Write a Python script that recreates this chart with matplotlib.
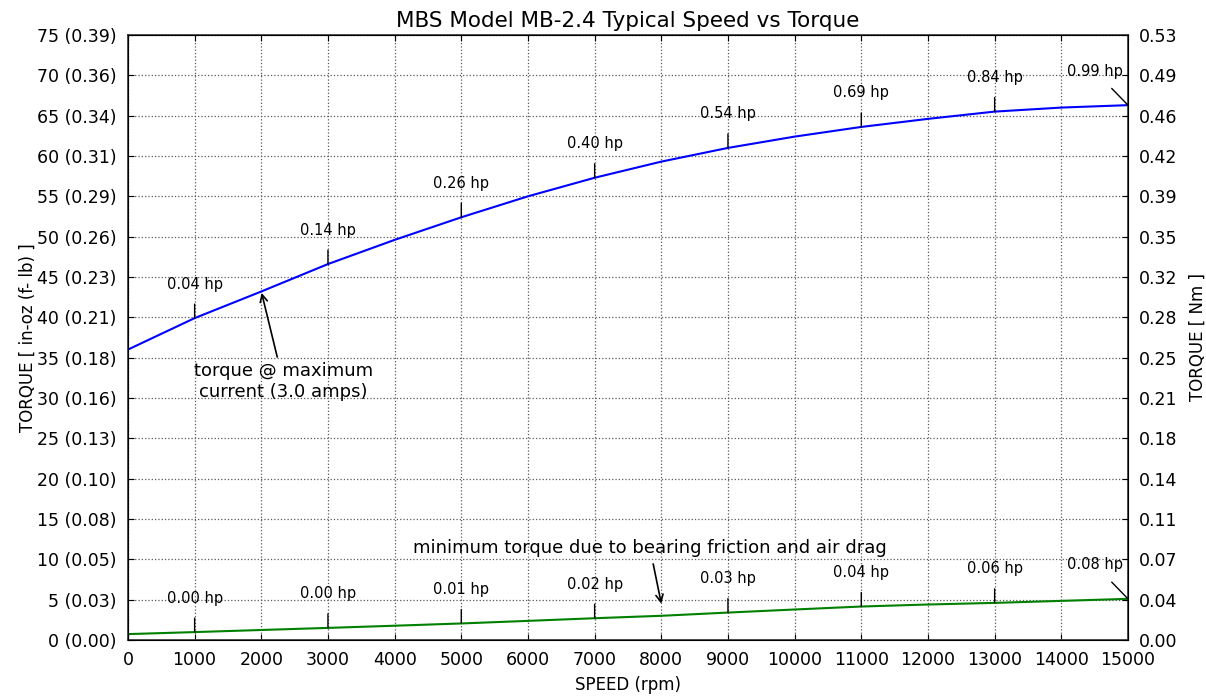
import numpy as np
import matplotlib
matplotlib.use("Agg")
import matplotlib.pyplot as plt

# speed (rpm) and torque (in-oz)
speed = [0, 1000, 2000, 3000, 4000, 5000, 6000, 7000, 8000,
         9000, 10000, 11000, 12000, 13000, 14000, 15000]
torque_max = [36.0, 39.9, 43.2, 46.6, 49.6, 52.4, 55.0, 57.3, 59.3,
              61.0, 62.4, 63.6, 64.6, 65.5, 66.0, 66.3]
torque_min = [0.73, 0.98, 1.24, 1.5, 1.77, 2.05, 2.37, 2.7, 3.0,
              3.4, 3.78, 4.15, 4.4, 4.6, 4.85, 5.1]

hp_speeds = [1000, 3000, 5000, 7000, 9000, 11000, 13000, 15000]
hp_max = ["0.04 hp", "0.14 hp", "0.26 hp", "0.40 hp",
          "0.54 hp", "0.69 hp", "0.84 hp", "0.99 hp"]
hp_min = ["0.00 hp", "0.00 hp", "0.01 hp", "0.02 hp",
          "0.03 hp", "0.04 hp", "0.06 hp", "0.08 hp"]

yticks = [0, 5, 10, 15, 20, 25, 30, 35, 40, 45, 50, 55, 60, 65, 70, 75]
left_labels = ["0 (0.00)", "5 (0.03)", "10 (0.05)", "15 (0.08)", "20 (0.10)",
               "25 (0.13)", "30 (0.16)", "35 (0.18)", "40 (0.21)", "45 (0.23)",
               "50 (0.26)", "55 (0.29)", "60 (0.31)", "65 (0.34)", "70 (0.36)",
               "75 (0.39)"]
right_labels = ["0.00", "0.04", "0.07", "0.11", "0.14", "0.18", "0.21", "0.25",
                "0.28", "0.32", "0.35", "0.39", "0.42", "0.46", "0.49", "0.53"]
xticks = list(range(0, 15001, 1000))

plt.rcParams["font.family"] = "DejaVu Sans"

fig = plt.figure(figsize=(12.06, 6.98), dpi=100)
ax = fig.add_axes([0.1061, 0.0831, 0.8292, 0.8668])

ax.plot(speed, torque_max, color="#0000ff", lw=1.5)
ax.plot(speed, torque_min, color="#008000", lw=1.5)

ax.set_xlim(0, 15000)
ax.set_ylim(0, 75)
ax.set_xticks(xticks)
ax.set_yticks(yticks)
ax.set_yticklabels(left_labels)
ax.tick_params(direction="in", labelsize=12.5, length=4, top=True, pad=8)
ax.grid(True, color="0.35", linestyle=":", linewidth=0.9)
for s in ax.spines.values():
    s.set_linewidth(1.2)
    s.set_color("0.2")

ax2 = ax.twinx()
ax2.set_ylim(0, 75)
ax2.set_yticks(yticks)
ax2.set_yticklabels(right_labels)
ax2.tick_params(direction="in", labelsize=12.5, length=4, pad=8)

ax.set_title("MBS Model MB-2.4 Typical Speed vs Torque", fontsize=15.5, pad=6)
ax.set_xlabel("SPEED (rpm)", fontsize=12, labelpad=5)
ax.set_ylabel("TORQUE [ in-oz (f- lb) ]", fontsize=12, labelpad=0)
ax2.set_ylabel("TORQUE [ Nm ]", fontsize=12, labelpad=8)

# hp labels along both curves
for curve, labels in [(torque_max, hp_max), (torque_min, hp_min)]:
    for sp, lab in zip(hp_speeds, labels):
        yv = np.interp(sp, speed, curve)
        dx = -33 if sp == 15000 else 0
        ax.annotate(lab, xy=(sp, yv), xytext=(dx, 34), textcoords="offset pixels",
                    ha="center", va="center", fontsize=10.5,
                    arrowprops=dict(arrowstyle="-", color="k", lw=1,
                                    shrinkA=7, shrinkB=0))

ax.annotate("torque @ maximum\ncurrent (3.0 amps)", xy=(2000, 43.2),
            xytext=(2330, 32.0), ha="center", va="center", fontsize=13,
            arrowprops=dict(arrowstyle="->", color="k", lw=1.2,
                            shrinkA=2, shrinkB=1))
ax.annotate("minimum torque due to bearing friction and air drag",
            xy=(8000, 4.5), xytext=(7830, 11.4), ha="center", va="center",
            fontsize=13,
            arrowprops=dict(arrowstyle="->", color="k", lw=1.2,
                            shrinkA=3, shrinkB=0))

fig.savefig("out.png", dpi=100)
